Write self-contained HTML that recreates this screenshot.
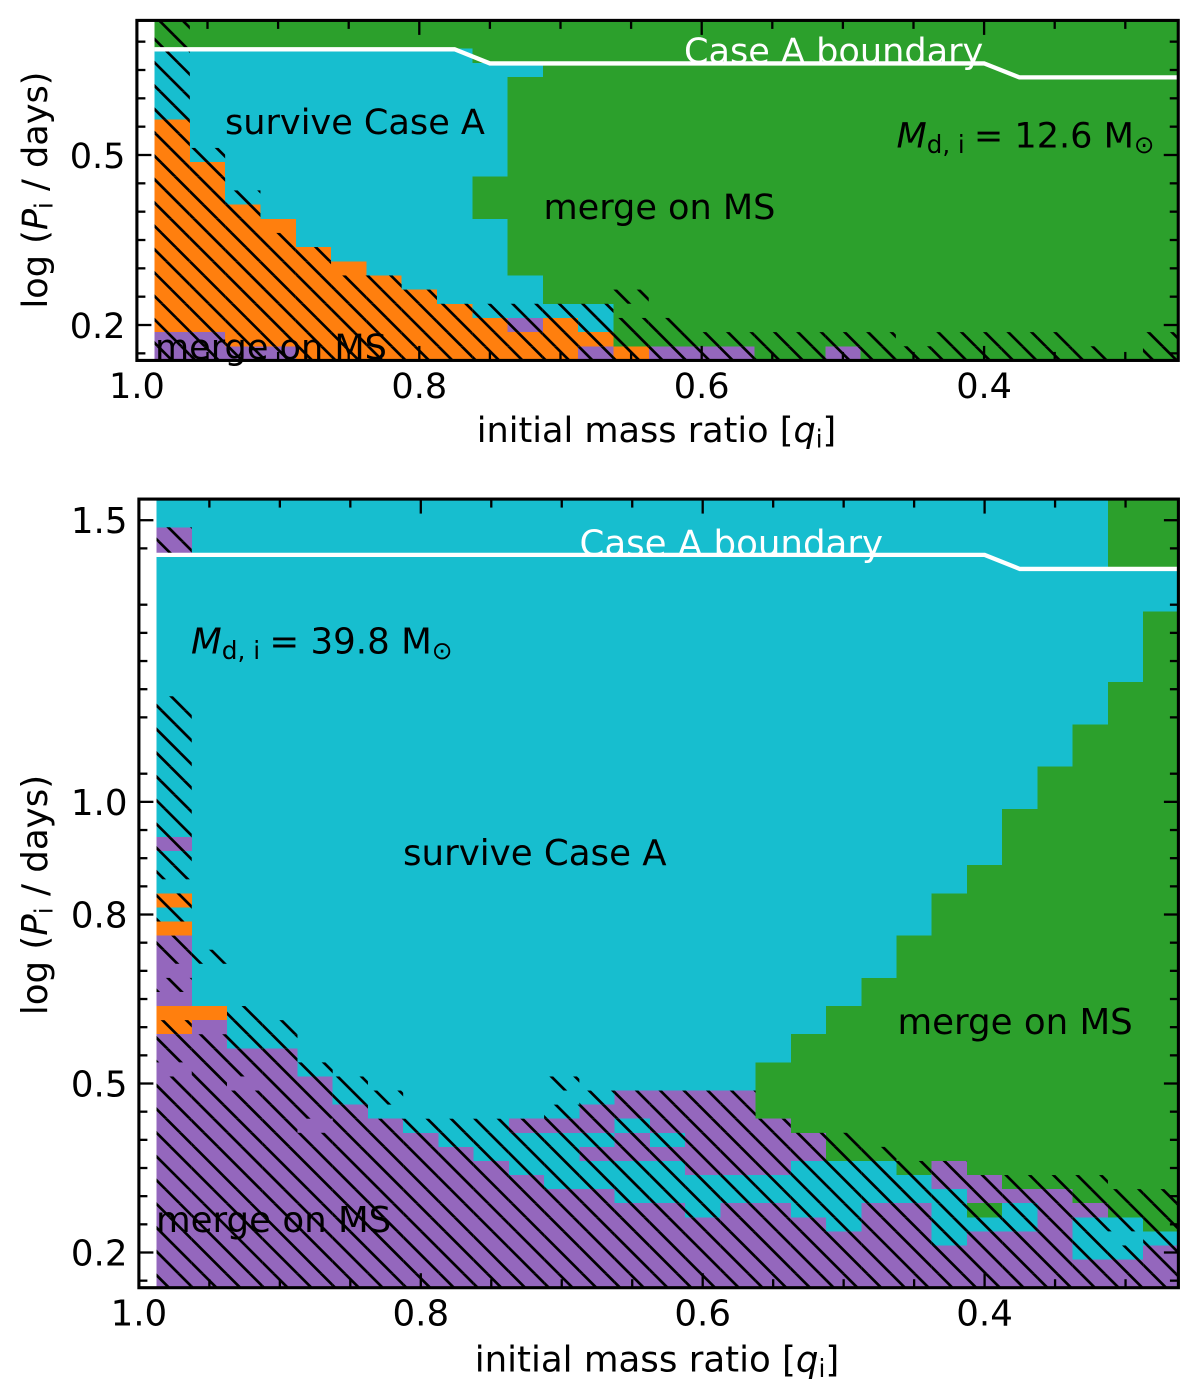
<!DOCTYPE html>
<html lang="en">
<head>
<meta charset="utf-8">
<title>Binary outcomes by mass ratio and period</title>
<style>
html,body{margin:0;padding:0;background:#fff;overflow:hidden;}
svg{display:block;}
text{font-family:"DejaVu Sans","Liberation Sans",sans-serif;fill:#000;}
</style>
</head>
<body>
<svg id="figure" xmlns="http://www.w3.org/2000/svg" width="1200" height="1394" viewBox="0 0 1200 1394">
  <rect x="0" y="0" width="1200" height="1394" fill="#ffffff"/>
  <g id="panel-top"></g>
  <g id="panel-bottom"></g>

  <g font-size="35.1">
    <text x="684" y="63" style="fill:#fff">Case A boundary</text>
    <text x="225" y="134">survive Case A</text>
    <text x="543.5" y="219">merge on MS</text>
    <text x="155" y="359">merge on MS</text>
    <text x="896.5" y="147.5"><tspan font-style="italic">M</tspan><tspan font-size="24.5" dy="5.5">d, i</tspan><tspan dy="-5.5" dx="-2"> = 12.6 M</tspan><tspan font-size="24.5" dy="5.5">⊙</tspan></text>
    <text x="656.5" y="442" text-anchor="middle">initial mass ratio [<tspan font-style="italic">q</tspan><tspan font-size="24.5" dy="5.5">i</tspan><tspan dy="-5.5">]</tspan></text>
    <text transform="translate(47 190) rotate(-90)" text-anchor="middle">log (<tspan font-style="italic">P</tspan><tspan font-size="24.5" dy="5.5">i</tspan><tspan dy="-5.5"> / days)</tspan></text>
  </g>

  <g font-size="35.6">
    <text x="579.5" y="555.5" style="fill:#fff">Case A boundary</text>
    <text x="403" y="865">survive Case A</text>
    <text x="897.5" y="1034">merge on MS</text>
    <text x="156" y="1232">merge on MS</text>
    <text x="191" y="653.5"><tspan font-style="italic">M</tspan><tspan font-size="24.8" dy="5.5">d, i</tspan><tspan dy="-5.5" dx="-2"> = 39.8 M</tspan><tspan font-size="24.8" dy="5.5">⊙</tspan></text>
    <text x="657" y="1371.5" text-anchor="middle">initial mass ratio [<tspan font-style="italic">q</tspan><tspan font-size="24.8" dy="5.5">i</tspan><tspan dy="-5.5">]</tspan></text>
    <text transform="translate(47 895) rotate(-90)" text-anchor="middle">log (<tspan font-style="italic">P</tspan><tspan font-size="24.8" dy="5.5">i</tspan><tspan dy="-5.5"> / days)</tspan></text>
  </g>
</svg>

<script>
// Categories: grid centres
const massRatios = [0.975,0.95,0.925,0.9,0.875,0.85,0.825,0.8,0.775,0.75,0.725,0.7,0.675,0.65,0.625,0.6,0.575,0.55,0.525,0.5,0.475,0.45,0.425,0.4,0.375,0.35,0.325,0.3,0.275];
const topLogPeriods = [0.15,0.175,0.2,0.225,0.25,0.275,0.3,0.325,0.35,0.375,0.4,0.425,0.45,0.475,0.5,0.525,0.55,0.575,0.6,0.625,0.65,0.675,0.7,0.725];
const bottomLogPeriods = [0.15,0.175,0.2,0.225,0.25,0.275,0.3,0.325,0.35,0.375,0.4,0.425,0.45,0.475,0.5,0.525,0.55,0.575,0.6,0.625,0.65,0.675,0.7,0.725,0.75,0.775,0.8,0.825,0.85,0.875,0.9,0.925,0.95,0.975,1.0,1.025,1.05,1.075,1.1,1.125,1.15,1.175,1.2,1.225,1.25,1.275,1.3,1.325,1.35,1.375,1.4,1.425,1.45,1.475,1.5,1.525];

// Outcome per mass-ratio column, run-length coded from the shortest period up.
// G merge on MS, C survive Case A, O orange outcome, P purple outcome
const topOutcomes = ["P2O15C5G2","P2O12C8G2","P1O10C11G2","P1O9C12G2","O8C14G2","O7C15G2","O6C16G2","O5C17G2","O4C18G2","O3C7G3C8G3","O2P1C3G14C1G3","O3C1G20","P1O1C2G20","O1G23","P1G23","P1G23","P1G23","G24","G24","P1G23","G24","G24","G24","G24","G24","G24","G24","G24","G24"];
const bottomOutcomes = ["P18O2P5O1C1O1C3P1C20P2C2","P19O1C36","P17C39","P17C39","P15C41","P13C43","P12C44","P11C45","P10C46","P9C47","P8C3P1C44","P7C4P1C44","P7C2P1C1P2C43","P6C3P2C1P2C42","P6C3P1C1P3C42","P5C3P6C42","P6C2P6C42","P6C2P4G4C40","P5C4P2G7C38","P4C5G11C36","P6C3G13C34","P6C2G17C31","P3C4P2G19C28","P4C1G1P2G22C26","P4C2P1G27C22","P7G30C19","P2C3P1G34C16","P2C3G38C8G5","P3C1G44C3G5"];

// Hatched (H) or plain (.) per column, same coding
const topHatching = ["H24","H15.9","H12.12","H9.15","H8.16","H6.18","H6.18","H5.19","H4.20","H4.20","H4.20","H4.20","H4.20","H3.1H1.19","H3.21","H2.22","H2.22","H2.22","H2.22","H2.22","H2.22","H1.23","H2.22","H2.22","H2.22","H2.22","H1.23",".24","H2.22"];
const bottomHatching = ["H15.1H3.2H1.1H2.1H2.1H13.10H2.2","H18.5H1.32","H14.1H5.36","H19.37","H11.1H4.40","H15.41","H12.1H1.42","H12.44","H12.44","H12.44","H12.44","H13.1H1.41","H14.42","H14.42","H14.42","H14.42","H14.42","H12.44","H11.45","H11.45","H10.46","H9.47","H9.47","H8.48","H8.48","H8.48","H8.48","H3.1H3.49","H7.49"];

// Case A boundary series
const boundaryMassRatios = [0.9875,0.775,0.75,0.4,0.375,0.2625];
const topBoundaryLogP = [0.6865,0.6865,0.6616,0.6616,0.637,0.637];
const bottomBoundaryLogP = [1.4385,1.4385,1.4385,1.4385,1.4135,1.4135];

// Ticks
const xMajorTicks = [1.0,0.8,0.6,0.4];
const xTickLabels = ["1.0","0.8","0.6","0.4"];
const xMinorTicks = [0.95,0.9,0.85,0.75,0.7,0.65,0.55,0.5,0.45,0.35,0.3];
const topYMajorTicks = [0.2,0.5];
const topYTickLabels = ["0.2","0.5"];
const topYMinorTicks = [0.15,0.25,0.3,0.35,0.4,0.45,0.55,0.6,0.65,0.7];
const bottomYMajorTicks = [0.2,0.5,0.8,1.0,1.5];
const bottomYTickLabels = ["0.2","0.5","0.8","1.0","1.5"];
const bottomYMinorTicks = [0.15,0.25,0.3,0.35,0.4,0.45,0.55,0.6,0.65,0.7,0.75,0.85,0.9,0.95,1.05,1.15,1.2,1.25,1.3,1.35,1.45];

const outcomeColors = {G:"#2ca02c",C:"#17becf",O:"#ff7f0e",P:"#9467bd"};
const outcomeNames = {G:"merge-on-ms",C:"survive-case-a",O:"orange-outcome",P:"purple-outcome"};
const NS = "http://www.w3.org/2000/svg";
const HALF_Q = 0.0125;
const HALF_P = 0.0125;

function expandRuns(code) {
  return code.replace(/([A-Z.])(\d+)/g, function (m, c, n) { return c.repeat(+n); });
}
function make(tag, parent, attrs) {
  const el = document.createElementNS(NS, tag);
  for (const k in attrs) el.setAttribute(k, attrs[k]);
  parent.appendChild(el);
  return el;
}

function drawPanel(p) {
  const root = document.getElementById(p.id);
  const x = p.x, y = p.y;

  // white axes background
  const bg = make("rect", root, {x: x(1.0), y: y(p.yMax), width: x(0.2625) - x(1.0), height: y(p.yMin) - y(p.yMax), fill: "#fff"});
  
  

  // heat-map cells
  const cells = make("g", root, {"shape-rendering": "crispEdges"});
  
  
  const clipId = p.id + "-hatch-clip";
  const defs = make("defs", root, {});
  const clip = make("clipPath", defs, {id: clipId});
  massRatios.forEach(function (q, c) {
    const outcomes = expandRuns(p.outcomes[c]);
    const hatching = expandRuns(p.hatching[c]);
    p.logPeriods.forEach(function (lp, k) {
      const x0 = x(q + HALF_Q), x1 = x(q - HALF_Q);
      const y0 = Math.max(y(lp + HALF_P), y(p.yMax)), y1 = Math.min(y(lp - HALF_P), y(p.yMin));
      const cell = make("rect", cells, {x: x0, y: y0, width: x1 - x0, height: y1 - y0, fill: outcomeColors[outcomes[k]]});
      
      
      if (hatching[k] === "H") {
        make("rect", clip, {x: x0, y: y0, width: x1 - x0, height: y1 - y0});
      }
    });
  });

  const left = x(1.0), right = x(0.2625), top = y(p.yMax), bottom = y(p.yMin);

  // hatching: 45-degree lines on a fixed raster, clipped to flagged cells
  const hatch = make("g", root, {"clip-path": "url(#" + clipId + ")", stroke: "#000", "stroke-width": 2.7, fill: "none"});
  
  
  for (let n = -70; n <= 70; n++) {
    const d = p.hatchRef + n * p.hatchStep;
    const xa = Math.max(left, top - d), xb = Math.min(right, bottom - d);
    if (xb <= xa) continue;
    const hl = make("line", hatch, {x1: xa, y1: xa + d, x2: xb, y2: xb + d});
    
    
  }

  // Case A boundary line
  const pts = boundaryMassRatios.map(function (q, i) { return x(q) + "," + y(p.boundary[i]); }).join(" ");
  const line = make("polyline", root, {points: pts, fill: "none", stroke: "#fff", "stroke-width": 4.3, "stroke-linejoin": "miter"});
  
  

  // ticks on all four sides
  const ticks = make("g", root, {stroke: "#000", "stroke-width": 2.3});
  
  
  function xTick(q, len, name) {
    const a = make("line", ticks, {x1: x(q), x2: x(q), y1: bottom, y2: bottom - len});
    
    
    const b = make("line", ticks, {x1: x(q), x2: x(q), y1: top, y2: top + len});
    
    
  }
  function yTick(v, len, name) {
    const a = make("line", ticks, {x1: left, x2: left + len, y1: y(v), y2: y(v)});
    
    
    const b = make("line", ticks, {x1: right, x2: right - len, y1: y(v), y2: y(v)});
    
    
  }
  xMinorTicks.forEach(function (q) { xTick(q, 8.5, 'x-minor-tick'); });
  xMajorTicks.forEach(function (q) { xTick(q, 14.5, 'x-major-tick'); });
  p.yMinor.forEach(function (v) { yTick(v, 8.5, 'y-minor-tick'); });
  p.yMajor.forEach(function (v) { yTick(v, 14.5, 'y-major-tick'); });

  // frame
  const frame = make("rect", root, {x: left, y: top, width: right - left, height: bottom - top, fill: "none", stroke: "#000", "stroke-width": 3.1});
  
  

  // tick labels
  xMajorTicks.forEach(function (q, i) {
    const t = make("text", root, {x: x(q), y: p.xLabelY, "text-anchor": "middle", "font-size": p.fontSize});
    
    
    t.textContent = xTickLabels[i];
  });
  p.yMajor.forEach(function (v, i) {
    const t = make("text", root, {x: p.yLabelX, y: y(v) + 13, "text-anchor": "end", "font-size": p.fontSize});
    
    
    t.textContent = p.yLabels[i];
  });
}

drawPanel({
  id: "panel-top",
  x: function (q) { return 136.9 + (1 - q) * 1412; },
  y: function (v) { return 155 + (0.5 - v) * 566.7; },
  yMin: 0.1375, yMax: 0.7375,
  logPeriods: topLogPeriods, outcomes: topOutcomes, hatching: topHatching,
  boundary: topBoundaryLogP,
  hatchRef: -45.3, hatchStep: 23.364,
  yMajor: topYMajorTicks, yLabels: topYTickLabels, yMinor: topYMinorTicks,
  xLabelY: 398, yLabelX: 125.5, fontSize: 35.1
});
drawPanel({
  id: "panel-bottom",
  x: function (q) { return 138.9 + (1 - q) * 1409.5; },
  y: function (v) { return 1252.5 - (v - 0.2) * 563.3; },
  yMin: 0.1375, yMax: 1.5375,
  logPeriods: bottomLogPeriods, outcomes: bottomOutcomes, hatching: bottomHatching,
  boundary: bottomBoundaryLogP,
  hatchRef: 881.3, hatchStep: 23.74,
  yMajor: bottomYMajorTicks, yLabels: bottomYTickLabels, yMinor: bottomYMinorTicks,
  xLabelY: 1325.5, yLabelX: 127.5, fontSize: 35.6
});
</script>
</body>
</html>
